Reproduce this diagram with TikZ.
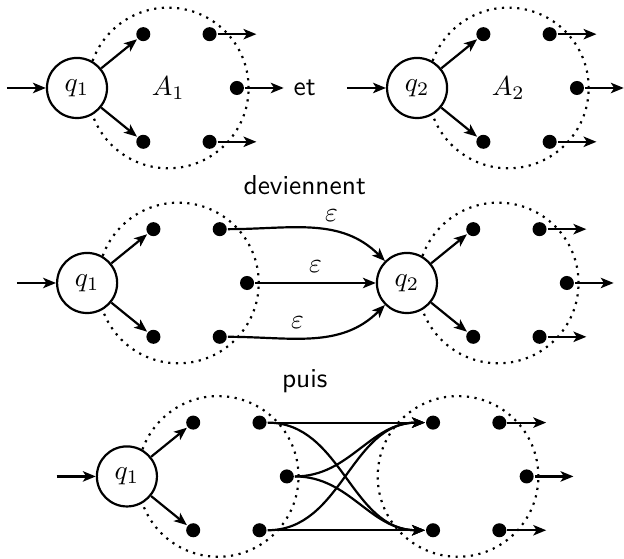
\documentclass[tikz,border=0pt]{standalone}
\usetikzlibrary{positioning,arrows.meta}
\begin{document}
\begin{tikzpicture}[on grid, thick, >={Stealth[length=4.7pt,width=3.8pt,inset=1.2pt]},
main/.style = {draw, circle, fill=white, minimum size=7.7mm, inner sep=0pt},
bullet/.style = {fill, circle, minimum size=1.8mm, inner sep=0pt},
zone/.style = {draw, dotted, circle, minimum size=20.6mm, inner sep=0pt},
txt/.style = {font=\sffamily}]
\useasboundingbox (-0.987,-6.026) rectangle (7.013,1.128);

\node[zone] (z1) at (1.17,0) {$A_1$};
\node[main] (1) [left=1.17cm of z1] {$q_1$};
\node[bullet] (1a) [above right=0.69cm and 0.85cm of 1] {};
\node[bullet] (1b) [right=0.85cm of 1a] {};
\node[bullet] (1c) [right=2.05cm of 1] {};
\node[bullet] (1d) [below right=0.69cm and 0.85cm of 1] {};
\node[bullet] (1e) [right=0.85cm of 1d] {};
\node[txt] (et) [right=0.87cm of 1c] {et};

\node[zone] (z2) at (5.53,0) {$A_2$};
\node[main] (2) [left=1.17cm of z2] {$q_2$};
\node[bullet] (2a) [above right=0.69cm and 0.85cm of 2] {};
\node[bullet] (2b) [right=0.85cm of 2a] {};
\node[bullet] (2c) [right=2.05cm of 2] {};
\node[bullet] (2d) [below right=0.69cm and 0.85cm of 2] {};
\node[bullet] (2e) [right=0.85cm of 2d] {};

\node[txt] (dev) at (2.92,-1.24) {deviennent};

\node[zone] (z3) at (1.30,-2.5) {};
\node[main] (3) [left=1.17cm of z3] {$q_1$};
\node[bullet] (3a) [above right=0.69cm and 0.85cm of 3] {};
\node[bullet] (3b) [right=0.85cm of 3a] {};
\node[bullet] (3c) [right=2.05cm of 3] {};
\node[bullet] (3d) [below right=0.69cm and 0.85cm of 3] {};
\node[bullet] (3e) [right=0.85cm of 3d] {};

\node[zone] (z4) at (5.40,-2.5) {};
\node[main] (4) [left=1.17cm of z4] {$q_2$};
\node[bullet] (4a) [above right=0.69cm and 0.85cm of 4] {};
\node[bullet] (4b) [right=0.85cm of 4a] {};
\node[bullet] (4c) [right=2.05cm of 4] {};
\node[bullet] (4d) [below right=0.69cm and 0.85cm of 4] {};
\node[bullet] (4e) [right=0.85cm of 4d] {};

\node[txt] (puis) at (2.92,-3.76) {puis};

\node[zone] (z5) at (1.81,-4.98) {};
\node[main] (5) [left=1.17cm of z5] {$q_1$};
\node[bullet] (5a) [above right=0.69cm and 0.85cm of 5] {};
\node[bullet] (5b) [right=0.85cm of 5a] {};
\node[bullet] (5c) [right=2.05cm of 5] {};
\node[bullet] (5d) [below right=0.69cm and 0.85cm of 5] {};
\node[bullet] (5e) [right=0.85cm of 5d] {};

\node[zone] (z6) at (4.885,-4.98) {};
\node[bullet] (6a) [above left=0.69cm and 0.32cm of z6] {};
\node[bullet] (6b) [right=0.85cm of 6a] {};
\node[bullet] (6c) [right=0.88cm of z6] {};
\node[bullet] (6d) [below left=0.69cm and 0.32cm of z6] {};
\node[bullet] (6e) [right=0.85cm of 6d] {};

\coordinate[left=0.9cm of 1] (i1);
\coordinate[left=0.9cm of 2] (i2);
\coordinate[left=0.9cm of 3] (i3);
\coordinate[left=0.9cm of 5] (i5);
\coordinate[right=0.6cm of 1b] (o1b);
\coordinate[right=0.6cm of 1c] (o1c);
\coordinate[right=0.6cm of 1e] (o1e);
\coordinate[right=0.6cm of 2b] (o2b);
\coordinate[right=0.6cm of 2c] (o2c);
\coordinate[right=0.6cm of 2e] (o2e);
\coordinate[right=0.6cm of 4b] (o4b);
\coordinate[right=0.6cm of 4c] (o4c);
\coordinate[right=0.6cm of 4e] (o4e);
\coordinate[right=0.6cm of 6b] (o6b);
\coordinate[right=0.6cm of 6c] (o6c);
\coordinate[right=0.6cm of 6e] (o6e);

\draw[->] (i1) -- (1);
\draw[->] (1) -- (1a);
\draw[->] (1) -- (1d);
\draw[->] (1b) -- (o1b);
\draw[->] (1c) -- (o1c);
\draw[->] (1e) -- (o1e);

\draw[->] (i2) -- (2);
\draw[->] (2) -- (2a);
\draw[->] (2) -- (2d);
\draw[->] (2b) -- (o2b);
\draw[->] (2c) -- (o2c);
\draw[->] (2e) -- (o2e);

\draw[->] (i3) -- (3);
\draw[->] (3) -- (3a);
\draw[->] (3) -- (3d);
\draw[->] (3b) to[out=0, in=135] node[pos=0.62, above] {$\varepsilon$} (4);
\draw[->] (3c) -- node[above] {$\varepsilon$} (4);
\draw[->] (3e) to[out=0, in=225] node[pos=0.4, above] {$\varepsilon$} (4);
\draw[->] (4) -- (4a);
\draw[->] (4) -- (4d);
\draw[->] (4b) -- (o4b);
\draw[->] (4c) -- (o4c);
\draw[->] (4e) -- (o4e);

\draw[->] (i5) -- (5);
\draw[->] (5) -- (5a);
\draw[->] (5) -- (5d);
\draw[->] (5b) -- (6a);
\draw[->] (5b) to[out=0, in=180] (6d);
\draw[->] (5c) to[out=0, in=180] (6a);
\draw[->] (5c) to[out=0, in=180] (6d);
\draw[->] (5e) to[out=0, in=180] (6a);
\draw[->] (5e) -- (6d);
\draw[->] (6b) -- (o6b);
\draw[->] (6c) -- (o6c);
\draw[->] (6e) -- (o6e);

\end{tikzpicture}
\end{document}
